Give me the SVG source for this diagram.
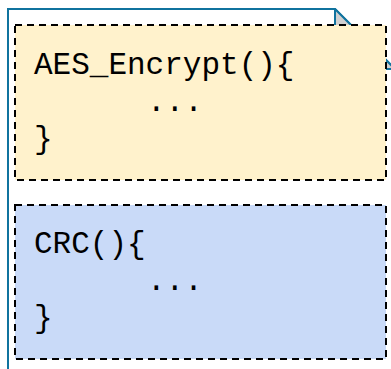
<svg xmlns="http://www.w3.org/2000/svg" width="391" height="369" viewBox="0 0 391 369">
  <style>
    .doc { fill: #ffffff; stroke: #10739E; stroke-width: 2; }
    .fold { fill: #d0d0d0; stroke: #10739E; stroke-width: 2; stroke-linejoin: round; }
    .block { stroke: #000000; stroke-width: 2; stroke-dasharray: 7 5; }
    .code { font-family: "Liberation Mono", "DejaVu Sans Mono", monospace; font-size: 31px; fill: #000000; }
  </style>
  <!-- source file outline with folded corner -->
  <g id="file">
    <path class="doc" d="M8,400 L8,9 L335,9 L395,69 L395,400 Z"/>
    <path class="fold" d="M335,9 L335,69 L395,69 Z"/>
  </g>
  <g id="aes-block">
    <rect class="block" x="15" y="25" width="371" height="155" fill="#FFF2CC"/>
    <text class="code" x="34" y="74">AES_Encrypt(){</text>
    <text class="code" x="147" y="111">...</text>
    <text class="code" x="34" y="148">}</text>
  </g>
  <g id="crc-block">
    <rect class="block" x="15" y="205" width="371" height="154" fill="#C9DAF8"/>
    <text class="code" x="34" y="253">CRC(){</text>
    <text class="code" x="147" y="290">...</text>
    <text class="code" x="34" y="327">}</text>
  </g>
  <g id="connectors"/>
</svg>
